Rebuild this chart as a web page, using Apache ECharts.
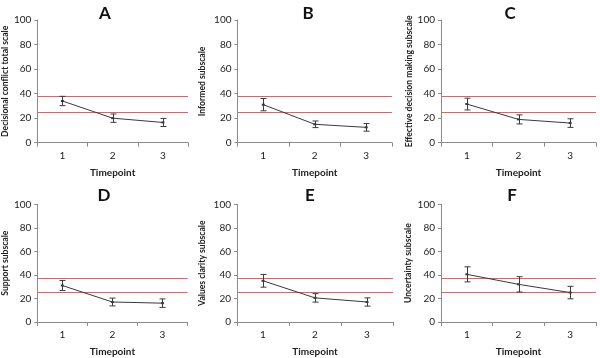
<!DOCTYPE html>
<html>
<head>
<meta charset="utf-8">
<script src="https://cdn.jsdelivr.net/npm/echarts@6/dist/echarts.min.js"></script>
<style>
  html, body { margin: 0; padding: 0; background: #fff; }
  #chart { width: 600px; height: 358px; }
</style>
</head>
<body>
<div id="chart"></div>
<script>
// 数据
const timepoints = ['1', '2', '3']
const panelTitles = ['A', 'B', 'C', 'D', 'E', 'F']
const yNames = [
  'Decisional conflict total scale',
  'Informed subscale',
  'Effective decision making subscale',
  'Support subscale',
  'Values clarity subscale',
  'Uncertainty subscale',
]
const meanA = [34, 20, 16.5]
const meanB = [31, 15, 12.5]
const meanC = [31.5, 19, 16]
const meanD = [31, 17, 16]
const meanE = [35, 20.5, 17]
const meanF = [40.5, 32, 25]
const errA = [3.8, 3.4, 3.3]
const errB = [5, 2.7, 3.1]
const errC = [4.8, 3.7, 3.5]
const errD = [4.3, 3.3, 3.6]
const errE = [5.4, 3.6, 3.5]
const errF = [6.4, 6.5, 5.3]
const thresholds = [25, 37.5]

const means = [meanA, meanB, meanC, meanD, meanE, meanF]
const errs = [errA, errB, errC, errD, errE, errF]

// 布局
const grids = [
  { left: 33, top: 20, width: 155, height: 122.7 },
  { left: 237.5, top: 20, width: 154.5, height: 122.7 },
  { left: 441, top: 20, width: 155, height: 122.7 },
  { left: 32.5, top: 204.3, width: 155, height: 123.4 },
  { left: 237, top: 204.3, width: 156, height: 123.4 },
  { left: 441, top: 204.3, width: 155, height: 123.4 },
]
const titlePos = [[100, 0], [303, 0], [505, 0], [99, 182], [305, 182], [507, 182]]
const nameGaps = [27, 31, 27, 27, 30, 28]

const FONT = 'Lato'
const AXIS_COLOR = '#8c8c8c'
const LABEL_COLOR = '#222'
const LINE_COLOR = '#3a3a3a'
const RED = '#bc7275'

const chart = echarts.init(document.getElementById('chart'))

const option = {
  animation: false,
  backgroundColor: '#fff',
  textStyle: { fontFamily: FONT },
  title: panelTitles.map((t, i) => ({
    text: t,
    left: titlePos[i][0],
    top: titlePos[i][1],
    textAlign: 'center',
    textStyle: { fontFamily: FONT, fontSize: 17, fontWeight: 'bold', color: '#111' },
  })),
  grid: grids.map(g => ({ ...g, containLabel: false })),
  xAxis: grids.map((g, i) => ({
    type: 'category',
    gridIndex: i,
    data: timepoints,
    boundaryGap: true,
    name: 'Timepoint',
    nameLocation: 'middle',
    nameGap: 25,
    nameTextStyle: { fontFamily: FONT, fontSize: 10, fontWeight: 'bold', color: LABEL_COLOR },
    axisLine: { lineStyle: { color: AXIS_COLOR, width: 1 } },
    axisTick: { show: true, length: 4, lineStyle: { color: AXIS_COLOR } },
    axisLabel: { fontFamily: FONT, fontSize: 10, color: LABEL_COLOR, margin: 8 },
    splitLine: { show: false },
  })),
  yAxis: grids.map((g, i) => ({
    type: 'value',
    gridIndex: i,
    min: 0,
    max: 100,
    interval: 20,
    name: yNames[i],
    nameLocation: 'middle',
    nameGap: nameGaps[i],
    nameRotate: 90,
    nameTextStyle: { fontFamily: FONT, fontSize: 8.6, fontWeight: 'bold', color: LABEL_COLOR },
    axisLine: { show: true, lineStyle: { color: AXIS_COLOR, width: 1 } },
    axisTick: { show: true, length: 3, lineStyle: { color: AXIS_COLOR } },
    axisLabel: { fontFamily: FONT, fontSize: 10, color: LABEL_COLOR, margin: 6 },
    splitLine: { show: false },
  })),
  series: [],
}

means.forEach((m, i) => {
  // 均值折线 + 阈值线
  option.series.push({
    type: 'line',
    xAxisIndex: i,
    yAxisIndex: i,
    data: m,
    symbol: 'rect',
    symbolSize: [3, 2],
    itemStyle: { color: LINE_COLOR },
    lineStyle: { color: LINE_COLOR, width: 1 },
    z: 3,
    markLine: {
      silent: true,
      symbol: 'none',
      label: { show: false },
      lineStyle: { color: RED, width: 1, type: 'solid' },
      data: thresholds.map(v => ({ yAxis: v })),
      z: 1,
    },
  })
  // 误差线
  option.series.push({
    type: 'custom',
    xAxisIndex: i,
    yAxisIndex: i,
    data: m.map((v, j) => [j, v - errs[i][j], v + errs[i][j]]),
    z: 4,
    renderItem(params, api) {
      const lo = api.coord([api.value(0), api.value(1)])
      const hi = api.coord([api.value(0), api.value(2)])
      const x = Math.round(lo[0]) + 0.5
      const cap = 3
      const style = { stroke: LINE_COLOR, lineWidth: 1, fill: null }
      return {
        type: 'group',
        children: [
          { type: 'line', shape: { x1: x, y1: lo[1], x2: x, y2: hi[1] }, style },
          { type: 'line', shape: { x1: x - cap, y1: lo[1], x2: x + cap, y2: lo[1] }, style },
          { type: 'line', shape: { x1: x - cap, y1: hi[1], x2: x + cap, y2: hi[1] }, style },
        ],
      }
    },
  })
})

chart.setOption(option)
</script>
</body>
</html>
